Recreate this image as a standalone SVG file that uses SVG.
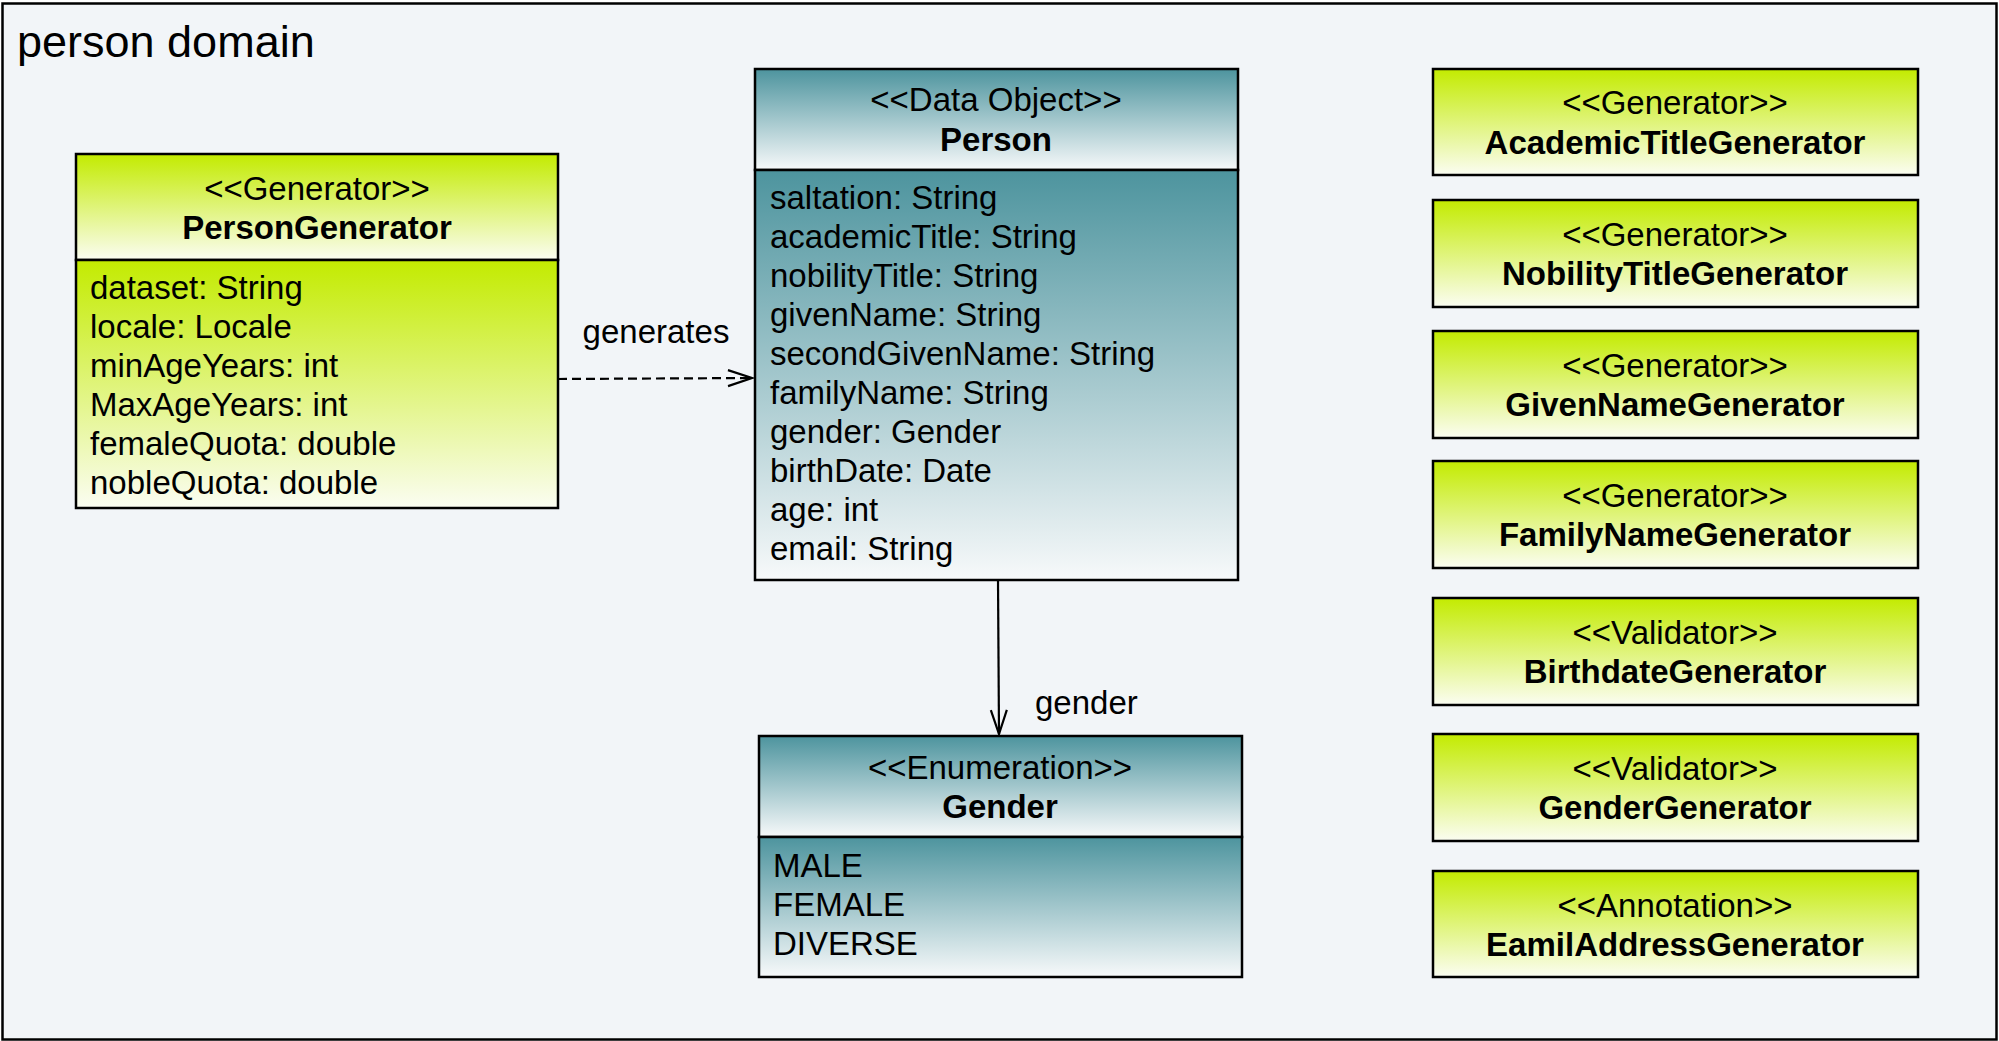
<svg xmlns="http://www.w3.org/2000/svg" width="1999" height="1041" viewBox="0 0 1999 1041">
<defs>
<linearGradient id="gGreen" x1="0" y1="0" x2="0" y2="1">
<stop offset="0" stop-color="#c3eb00"/>
<stop offset="1" stop-color="#fbfdf2"/>
</linearGradient>
<linearGradient id="gTeal" x1="0" y1="0" x2="0" y2="1">
<stop offset="0" stop-color="#4d949e"/>
<stop offset="1" stop-color="#f7f9fa"/>
</linearGradient>
<marker id="open" viewBox="0 0 30 20" refX="26" refY="10" markerWidth="30" markerHeight="20" markerUnits="userSpaceOnUse" orient="auto">
<path d="M2,2 L26,10 L2,18" fill="none" stroke="#000" stroke-width="2.2"/>
</marker>
<style>
text{font-family:"Liberation Sans",Arial,Helvetica,sans-serif;fill:#000}
.st{font-size:33px;text-anchor:middle}
.nm{font-size:33px;font-weight:bold;text-anchor:middle}
.at{font-size:33px}
.lbl{font-size:33px}
.box{stroke:#000;stroke-width:2.5}
.green{fill:url(#gGreen)}
.teal{fill:url(#gTeal)}
.edge{fill:none;stroke:#000;stroke-width:2.2}
</style>
</defs>
<g id="frame">
<rect x="2.5" y="3.5" width="1994" height="1036" fill="#f2f5f8" stroke="#000" stroke-width="2.5"/>
<text x="17" y="57" style="font-size:45px">person domain</text>
</g>
<g id="connectors">
<line class="edge" x1="558" y1="379" x2="752" y2="378" stroke-dasharray="9 5" marker-end="url(#open)"/>
<text class="lbl" x="656" y="343" text-anchor="middle">generates</text>
<line class="edge" x1="998" y1="580" x2="999" y2="734" marker-end="url(#open)"/>
<text class="lbl" x="1035" y="714">gender</text>
</g>
<g id="PersonGenerator">
<rect class="box green" x="76" y="154" width="482" height="106"/>
<rect class="box green" x="76" y="260" width="482" height="248"/>
<text class="st" x="317" y="200">&lt;&lt;Generator&gt;&gt;</text>
<text class="nm" x="317" y="239">PersonGenerator</text>
<text class="at" x="90" y="299">dataset: String</text>
<text class="at" x="90" y="338">locale: Locale</text>
<text class="at" x="90" y="377">minAgeYears: int</text>
<text class="at" x="90" y="416">MaxAgeYears: int</text>
<text class="at" x="90" y="455">femaleQuota: double</text>
<text class="at" x="90" y="494">nobleQuota: double</text>
</g>
<g id="Person">
<rect class="box teal" x="755" y="69" width="483" height="101"/>
<rect class="box teal" x="755" y="170" width="483" height="410"/>
<text class="st" x="996" y="111">&lt;&lt;Data Object&gt;&gt;</text>
<text class="nm" x="996" y="151">Person</text>
<text class="at" x="770" y="209">saltation: String</text>
<text class="at" x="770" y="248">academicTitle: String</text>
<text class="at" x="770" y="287">nobilityTitle: String</text>
<text class="at" x="770" y="326">givenName: String</text>
<text class="at" x="770" y="365">secondGivenName: String</text>
<text class="at" x="770" y="404">familyName: String</text>
<text class="at" x="770" y="443">gender: Gender</text>
<text class="at" x="770" y="482">birthDate: Date</text>
<text class="at" x="770" y="521">age: int</text>
<text class="at" x="770" y="560">email: String</text>
</g>
<g id="Gender">
<rect class="box teal" x="759" y="736" width="483" height="101"/>
<rect class="box teal" x="759" y="837" width="483" height="140"/>
<text class="st" x="1000" y="779">&lt;&lt;Enumeration&gt;&gt;</text>
<text class="nm" x="1000" y="818">Gender</text>
<text class="at" x="773" y="877">MALE</text>
<text class="at" x="773" y="916">FEMALE</text>
<text class="at" x="773" y="955">DIVERSE</text>
</g>
<g id="AcademicTitleGenerator">
<rect class="box green" x="1433" y="69" width="485" height="106"/>
<text class="st" x="1675" y="114">&lt;&lt;Generator&gt;&gt;</text>
<text class="nm" x="1675" y="154">AcademicTitleGenerator</text>
</g>
<g id="NobilityTitleGenerator">
<rect class="box green" x="1433" y="200" width="485" height="107"/>
<text class="st" x="1675" y="246">&lt;&lt;Generator&gt;&gt;</text>
<text class="nm" x="1675" y="285">NobilityTitleGenerator</text>
</g>
<g id="GivenNameGenerator">
<rect class="box green" x="1433" y="331" width="485" height="107"/>
<text class="st" x="1675" y="377">&lt;&lt;Generator&gt;&gt;</text>
<text class="nm" x="1675" y="416">GivenNameGenerator</text>
</g>
<g id="FamilyNameGenerator">
<rect class="box green" x="1433" y="461" width="485" height="107"/>
<text class="st" x="1675" y="507">&lt;&lt;Generator&gt;&gt;</text>
<text class="nm" x="1675" y="546">FamilyNameGenerator</text>
</g>
<g id="BirthdateGenerator">
<rect class="box green" x="1433" y="598" width="485" height="107"/>
<text class="st" x="1675" y="644">&lt;&lt;Validator&gt;&gt;</text>
<text class="nm" x="1675" y="683">BirthdateGenerator</text>
</g>
<g id="GenderGenerator">
<rect class="box green" x="1433" y="734" width="485" height="107"/>
<text class="st" x="1675" y="780">&lt;&lt;Validator&gt;&gt;</text>
<text class="nm" x="1675" y="819">GenderGenerator</text>
</g>
<g id="EamilAddressGenerator">
<rect class="box green" x="1433" y="871" width="485" height="106"/>
<text class="st" x="1675" y="917">&lt;&lt;Annotation&gt;&gt;</text>
<text class="nm" x="1675" y="956">EamilAddressGenerator</text>
</g>
</svg>
